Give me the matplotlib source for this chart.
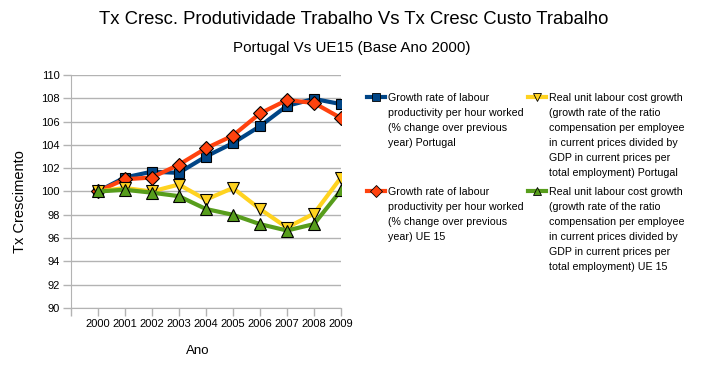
import matplotlib.pyplot as plt
from matplotlib.lines import Line2D

plt.rcParams['font.family'] = ['Liberation Sans', 'DejaVu Sans']

# Data
years = ['2000', '2001', '2002', '2003', '2004', '2005', '2006', '2007', '2008', '2009']
prod_pt = [100.0, 101.2, 101.7, 101.6, 103.0, 104.15, 105.6, 107.35, 107.95, 107.5]
prod_ue = [100.0, 101.05, 101.2, 102.3, 103.7, 104.8, 106.7, 107.85, 107.6, 106.3]
rulc_pt = [100.0, 100.3, 100.0, 100.6, 99.3, 100.3, 98.5, 96.9, 98.1, 101.2]
rulc_ue = [100.0, 100.15, 99.9, 99.6, 98.5, 98.0, 97.2, 96.65, 97.2, 100.1]

labels = [
    'Growth rate of labour\nproductivity per hour worked\n(% change over previous\nyear) Portugal',
    'Growth rate of labour\nproductivity per hour worked\n(% change over previous\nyear) UE 15',
    'Real unit labour cost growth\n(growth rate of the ratio\ncompensation per employee\nin current prices divided by\nGDP in current prices per\ntotal employment) Portugal',
    'Real unit labour cost growth\n(growth rate of the ratio\ncompensation per employee\nin current prices divided by\nGDP in current prices per\ntotal employment) UE 15',
]
series = [prod_pt, prod_ue, rulc_pt, rulc_ue]
colors = ['#004586', '#ff420e', '#ffd320', '#579d1c']
markers = ['s', 'D', 'v', '^']
msizes = [7.5, 7.5, 8, 8]

W, H = 703, 374
fig = plt.figure(figsize=(W / 100, H / 100), dpi=100)
ax = fig.add_axes([70.7 / W, 1 - 308 / H, 270.3 / W, 233 / H])

x = list(range(len(years)))
for vals, c, m, ms in zip(series, colors, markers, msizes):
    ax.plot(x, vals, color=c, lw=3, marker=m, ms=ms, mfc=c, mec='black', mew=0.8, zorder=3)

ax.set_xlim(-1, 9)
ax.set_ylim(90, 110)
ax.set_yticks(range(90, 111, 2))
ax.set_xticks(range(-1, 10))
ax.set_xticklabels([''] + years)
ax.grid(axis='y', color='#b3b3b3', lw=1)
ax.set_axisbelow(True)
for s in ['top', 'right']:
    ax.spines[s].set_visible(False)
for s in ['left', 'bottom']:
    ax.spines[s].set_color('#b3b3b3')
ax.tick_params(colors='#b3b3b3', labelcolor='black', labelsize=8, length=6, width=1)
ax.tick_params(axis='x', pad=2)
ax.tick_params(axis='y', pad=2)

fig.text(20 / W, 1 - 202 / H, 'Tx Crescimento', rotation=90, ha='center', va='center', fontsize=10.5)
fig.text(198 / W, 1 - 351 / H, 'Ano', ha='center', va='center', fontsize=9.5)

fig.text(354 / W, 1 - 20 / H, 'Tx Cresc. Produtividade Trabalho Vs Tx Cresc Custo Trabalho',
         ha='center', va='center', fontsize=13.3)
fig.text(352 / W, 1 - 48 / H, 'Portugal Vs UE15 (Base Ano 2000)', ha='center', va='center', fontsize=10.9)

# Legend laid out by hand: marker on first text line, rows aligned across columns
pos = [(376, 97), (376, 191), (537, 97), (537, 191)]
for (px, py), c, m, lab in zip(pos, colors, markers, labels):
    fig.add_artist(Line2D([(px - 9) / W, (px + 9) / W], [1 - py / H, 1 - py / H], color=c, lw=3,
                          transform=fig.transFigure))
    fig.add_artist(Line2D([px / W], [1 - py / H], color=c, marker=m, ms=6, mfc=c, mec='black',
                          mew=0.6, transform=fig.transFigure))
    fig.text((px + 12) / W, 1 - (py - 4) / H, lab, ha='left', va='top', fontsize=7.7, linespacing=1.63)

fig.savefig('out.png', dpi=100)
